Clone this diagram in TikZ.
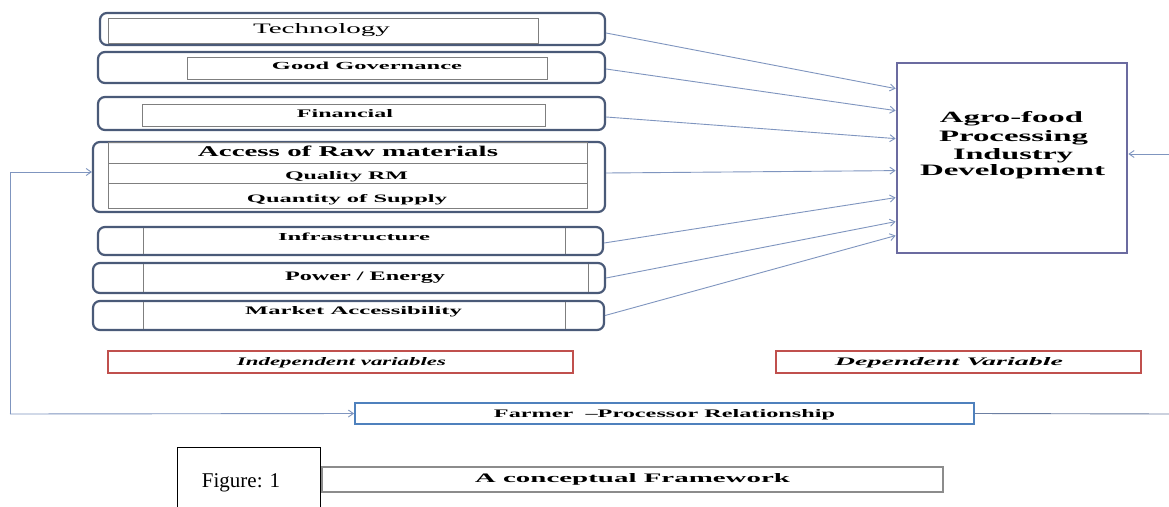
\documentclass[tikz,border=0pt]{standalone}
\usepackage{fontspec}
\setmainfont{Liberation Serif}
\usetikzlibrary{arrows.meta,calc}
\definecolor{outerc}{HTML}{4A5A78}
\definecolor{innerc}{HTML}{7F7F7F}
\definecolor{arrowc}{HTML}{7F95BF}
\definecolor{agroc}{HTML}{6B6BA0}
\definecolor{redc}{HTML}{C0504D}
\definecolor{bluec}{HTML}{4F81BD}
\definecolor{greyc}{HTML}{8C8C8C}
\newcommand{\fitt}[3]{\resizebox{#1pt}{#2pt}{#3}}
\tikzset{
  outerbox/.style={draw=outerc, line width=2.2pt, rounded corners=7pt, inner sep=0pt},
  innerbox/.style={draw=innerc, line width=0.9pt, inner sep=0pt},
  innerline/.style={draw=innerc, line width=0.9pt},
  lbl/.style={anchor=base, inner sep=0pt},
  conn/.style={draw=arrowc, line width=0.9pt, -{Straight Barb[length=5pt,width=7pt]}},
  feed/.style={draw=arrowc!85!black, line width=0.9pt},
  redbox/.style={draw=redc, line width=1.8pt, inner sep=0pt},
  agrobox/.style={draw=agroc, line width=2.8pt, inner sep=0pt},
  bluebox/.style={draw=bluec, line width=1.8pt, inner sep=0pt},
  greybox/.style={draw=greyc, line width=1.8pt, inner sep=0pt},
}
\begin{document}
\begin{tikzpicture}[x=1pt,y=-1pt]
\useasboundingbox[fill=white] (0,0) rectangle (1169,506);
% outer boxes
\node[outerbox, minimum width=505pt, minimum height=32pt] (tech) at (352.5,29) {};
\node[outerbox, minimum width=507pt, minimum height=31pt] (gg) at (351.5,67.5) {};
\node[outerbox, minimum width=507pt, minimum height=33pt] (fin) at (351.5,113.5) {};
\node[outerbox, minimum width=512pt, minimum height=70pt] (acc) at (349,177) {};
\node[outerbox, minimum width=505pt, minimum height=28pt] (infra) at (350.5,241) {};
\node[outerbox, minimum width=512pt, minimum height=30pt] (power) at (349,278) {};
\node[outerbox, minimum width=511pt, minimum height=29pt] (market) at (348.5,315.5) {};
% inner boxes
\node[innerbox, minimum width=430pt, minimum height=25pt] (techin) at (323,30.5) {};
\node[innerbox, minimum width=360pt, minimum height=22pt] (ggin) at (367,68) {};
\node[innerbox, minimum width=403pt, minimum height=22pt] (finin) at (343.5,115) {};
\node[innerbox, minimum width=479pt, minimum height=66pt] (accin) at (347.5,175) {};
\draw[innerline] (108,163) -- (587,163);
\draw[innerline] (108,183) -- (587,183);
\draw[innerline] (143,228) -- (143,254) (565,228) -- (565,254);
\draw[innerline] (143,264) -- (143,292) (588,264) -- (588,292);
\draw[innerline] (143,302) -- (143,329) (565,302) -- (565,329);
% labels
\node[lbl] (t1) at (321.5,33) {\fitt{137}{10}{Technology}};
\node[lbl] (t2) at (367,69) {\fitt{190}{7.5}{\bfseries Good Governance}};
\node[lbl] (t3) at (345,117) {\fitt{96}{8}{\bfseries Financial}};
\node[lbl] (t4) at (348,156) {\fitt{300}{10.5}{\bfseries Access of Raw materials}};
\node[lbl] (t5) at (346.5,179) {\fitt{123}{8}{\bfseries Quality RM}};
\node[lbl] (t6) at (347,202.5) {\fitt{200}{8}{\bfseries Quantity of Supply}};
\node[lbl] (t7) at (354,240) {\fitt{152}{7.5}{\bfseries Infrastructure}};
\node[lbl] (t8) at (365,280) {\fitt{160}{8.5}{\bfseries Power / Energy}};
\node[lbl] (t9) at (353.5,314) {\fitt{217}{8}{\bfseries Market Accessibility}};
% agro box
\node[agrobox, minimum width=230pt, minimum height=190pt] (agro) at (1012,158) {};
\node[lbl] (a1) at (1011.5,122.5) {\fitt{143}{11}{\bfseries Agro-food}};
\node[lbl] (a2) at (1013.5,141.5) {\fitt{149}{11}{\bfseries Processing}};
\node[lbl] (a3) at (1013,159) {\fitt{120}{11}{\bfseries Industry}};
\node[lbl] (a4) at (1012.5,175.5) {\fitt{185}{11}{\bfseries Development}};
% red boxes
\node[redbox, minimum width=465pt, minimum height=22pt] (indep) at (340.5,362) {};
\node[lbl] (indept) at (341.5,365.5) {\fitt{209}{8}{\bfseries\itshape Independent variables}};
\node[redbox, minimum width=365pt, minimum height=22pt] (dep) at (958.5,362) {};
\node[lbl] (dept) at (949,365.5) {\fitt{228}{8}{\bfseries\itshape Dependent Variable}};
% farmer
\node[bluebox, minimum width=619pt, minimum height=21pt] (farmer) at (664.5,413.5) {};
\node[lbl] (farmert) at (664.5,417.5) {\fitt{341}{8}{\bfseries Farmer\ \ --Processor Relationship}};
% figure & framework
\node[draw=black, line width=0.8pt, inner sep=0pt, minimum width=143pt, minimum height=70pt] (fig) at (248.5,482) {};
\node[lbl] (figt) at (241,487) {\fontsize{21}{24}\selectfont Figure: 1};
\node[greybox, minimum width=621pt, minimum height=25pt] (frame) at (632.5,479.5) {};
\node[lbl] (framet) at (632.5,482.5) {\fitt{315}{9}{\bfseries A conceptual Framework}};
% connectors
\draw[conn] ([yshift=-4pt]tech.east) -- ([yshift=-27pt]agro.north west);
\draw[conn] ([yshift=-1.5pt]gg.east) -- ([yshift=-49pt]agro.north west);
\draw[conn] ([yshift=-3.5pt]fin.east) -- ([yshift=-77pt]agro.north west);
\draw[conn] ([yshift=4pt]acc.east) -- ([yshift=-109pt]agro.north west);
\draw[conn] ([yshift=-2pt]infra.east) -- ([yshift=-136pt]agro.north west);
\draw[conn] (power.east) -- ([yshift=-160pt]agro.north west);
\draw[conn] (market.east) -- ([yshift=-174pt]agro.north west);
% feedback
\coordinate (rc) at (1171,414);
\coordinate (lc) at (10,414);
\draw[feed] (farmer.east) -- (rc);
\draw[conn] (rc) |- ([yshift=4pt]agro.east);
\draw[conn] (lc) |- ([yshift=5pt]acc.west);
\draw[conn] (lc) -- (farmer.west);
\end{tikzpicture}
\end{document}
